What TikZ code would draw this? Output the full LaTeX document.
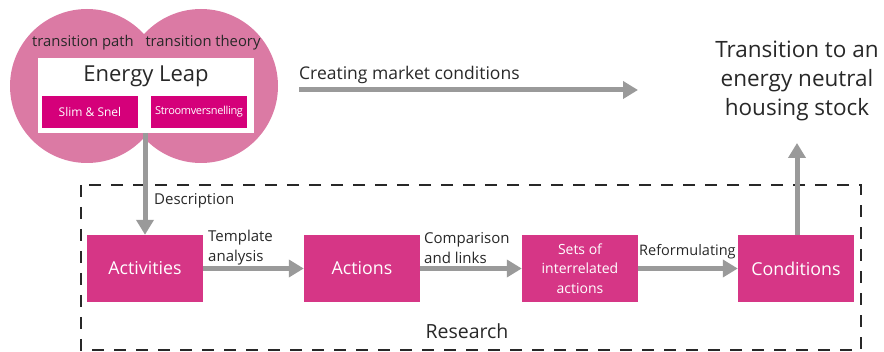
\documentclass[tikz,border=0pt]{standalone}
\usepackage{fontspec}
\setmainfont{Open Sans}
\usetikzlibrary{arrows.meta}
\definecolor{circpink}{RGB}{219,122,164}
\definecolor{boxmag}{RGB}{214,54,134}
\definecolor{smallmag}{RGB}{213,0,122}
\definecolor{arrgray}{RGB}{154,154,154}
\definecolor{txt}{RGB}{40,40,40}
\tikzset{
  mainbox/.style={fill=boxmag, text=white, minimum width=116pt, minimum height=67pt, inner sep=0pt, align=center, font=\fontsize{17.8}{20}\selectfont},
  smallbox/.style={fill=smallmag, text=white, minimum width=96pt, minimum height=32pt, inner sep=0pt},
  garrow/.style={draw=arrgray, line width=5pt, -{Triangle[width=17pt,length=15pt]}},
  lbl/.style={text=txt, font=\fontsize{15}{20}\selectfont, inner sep=0pt, align=left},
}
\begin{document}
\begin{tikzpicture}[x=1pt,y=-1pt]
\useasboundingbox (0,0) rectangle (884,352);
% circles
\fill[circpink] (87,86) circle (77);
\fill[circpink] (201,86) circle (77);
\node[text=txt, font=\fontsize{14.8}{17}\selectfont] (tpath) at (83,43) {transition path};
\node[text=txt, font=\fontsize{14.8}{17}\selectfont] (ttheory) at (203,43) {transition theory};
\fill[white] (38,58) rectangle (254,133);
\node[text=txt, font=\fontsize{22}{24}\selectfont] (leap) at (146,76) {Energy Leap};
\node[smallbox, font=\fontsize{12}{14}\selectfont] (slim) at (90,112) {Slim \& Snel};
\node[smallbox, font=\fontsize{11}{13}\selectfont\addfontfeatures{LetterSpace=-3}] (stroom) at (199,112) {Stroomversnelling};
\coordinate (leapbot) at (145,133);
% dashed research box
\draw[draw=txt, line width=2pt, dash pattern=on 12pt off 10pt] (81,185) rectangle (861,350);
\node[text=txt, font=\fontsize{19.5}{22}\selectfont, anchor=east] (research) at (512,331) {Research};
% boxes
\node[mainbox] (act) at (145,268.5) {Activities};
\node[mainbox] (actions) at (362,268.5) {Actions};
\node[mainbox, font=\fontsize{14}{19.5}\selectfont] (sets) at (580,268.5) {Sets of\\interrelated\\actions};
\node[mainbox] (cond) at (796,268.5) {Conditions};
% arrows
\draw[garrow] (leapbot) -- (act.north);
\node[lbl, anchor=west] (desc) at (154,201) {Description};
\draw[garrow] (act.east) -- (actions.west);
\node[lbl, anchor=west] (templ) at (208,248) {Template\\analysis};
\draw[garrow] (actions.east) -- (sets.west);
\node[lbl, anchor=west] (comp) at (424,248) {Comparison\\and links};
\draw[garrow] (sets.east) -- (cond.west);
\node[lbl, anchor=west, font=\fontsize{14.5}{17}\selectfont] (reform) at (639,252) {Reformulating};
\coordinate (goalbot) at (797,143);
\draw[garrow] (cond.north -| goalbot) -- (goalbot);
\node[text=txt, font=\fontsize{22.5}{29}\selectfont, align=center] (goal) at (797,81) {Transition to an\\energy neutral\\housing stock};
% market arrow
\coordinate (mstart) at (299,90);
\coordinate (mend) at (638,90);
\draw[garrow] (mstart) -- (mend);
\node[text=txt, font=\fontsize{17.5}{20}\selectfont, anchor=west, inner sep=0pt] (market) at (299,75) {Creating market conditions};
\end{tikzpicture}
\end{document}
